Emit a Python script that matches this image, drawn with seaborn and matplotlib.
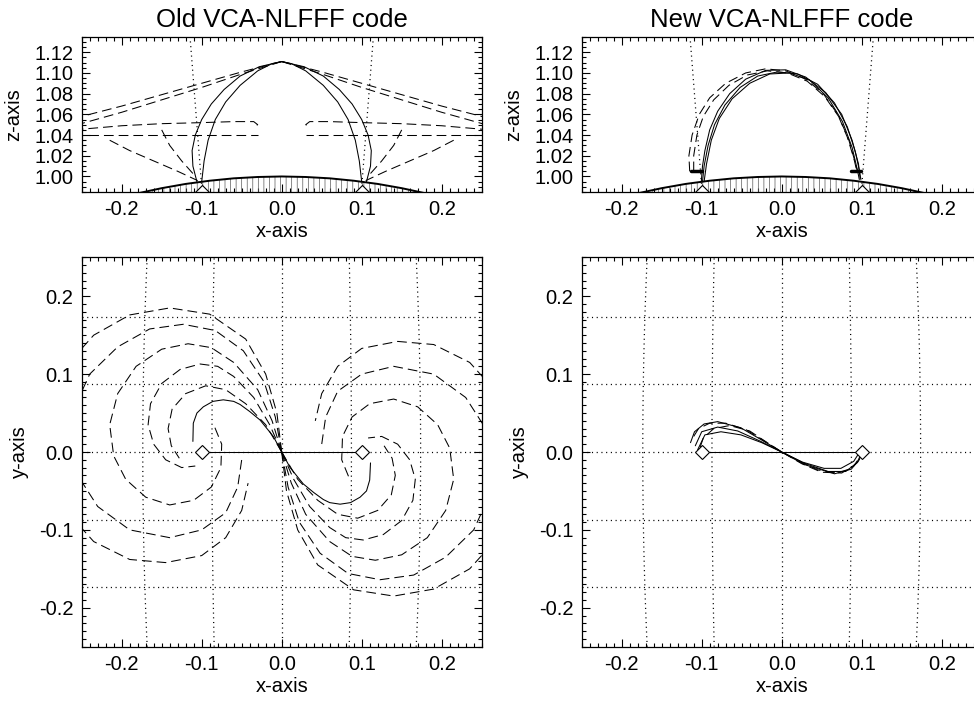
import matplotlib
matplotlib.use("Agg")
import matplotlib.pyplot as plt
import seaborn as sns
import numpy as np
from matplotlib.ticker import MultipleLocator, FormatStrFormatter

sns.set_theme(style="ticks")
plt.rcParams['font.family'] = ['Liberation Sans', 'DejaVu Sans']
plt.rcParams['axes.unicode_minus'] = False
plt.rcParams['lines.scale_dashes'] = False
plt.rcParams['hatch.linewidth'] = 0.5
for k in ('text.color', 'axes.labelcolor', 'xtick.color', 'ytick.color', 'axes.edgecolor'):
    plt.rcParams[k] = 'black'

# ---------------- data ----------------
titles = ["Old VCA-NLFFF code", "New VCA-NLFFF code"]
foot_x = [-0.1, 0.1]
foot_y = [0.0, 0.0]
axis_line_x = [-0.1, 0.1]
axis_line_y = [0.0, 0.0]

limb_x = [-0.18, -0.15, -0.12, -0.09, -0.06, -0.03, 0.0, 0.03, 0.06, 0.09, 0.12, 0.15, 0.18]
limb_z = [0.9837, 0.9887, 0.9928, 0.9959, 0.9982, 0.9995, 1.0, 0.9995, 0.9982, 0.9959, 0.9928, 0.9887, 0.9837]
fov_left_x = [-0.1146, -0.0995]
fov_right_x = [0.1146, 0.0995]
fov_z = [1.135, 0.985]

# old code, x-z projection
old_xz_solid_a_x = [-0.100, -0.097, -0.092, -0.083, -0.070, -0.052, -0.030, -0.012, 0.0, 0.012, 0.030, 0.052, 0.070, 0.083, 0.092, 0.097, 0.100]
old_xz_solid_a_z = [0.995, 1.015, 1.035, 1.055, 1.072, 1.088, 1.102, 1.109, 1.111, 1.109, 1.102, 1.088, 1.072, 1.055, 1.035, 1.015, 0.995]
old_xz_solid_b_x = [-0.106, -0.111, -0.112, -0.108, -0.100, -0.088, -0.072, -0.052, -0.028, 0.0, 0.028, 0.052, 0.072, 0.088, 0.100, 0.108, 0.112, 0.111, 0.106]
old_xz_solid_b_z = [0.995, 1.010, 1.025, 1.040, 1.055, 1.070, 1.084, 1.097, 1.106, 1.111, 1.106, 1.097, 1.084, 1.070, 1.055, 1.040, 1.025, 1.010, 0.995]
old_xz_dash = [
    ([0.0, -0.05, -0.10, -0.15, -0.20, -0.26], [1.111, 1.101, 1.090, 1.079, 1.068, 1.056]),
    ([0.0, -0.05, -0.10, -0.15, -0.20, -0.26], [1.111, 1.099, 1.086, 1.074, 1.062, 1.049]),
    ([-0.26, -0.20, -0.15, -0.10, -0.06, -0.035, -0.030, -0.035], [1.045, 1.049, 1.051, 1.052, 1.053, 1.053, 1.050, 1.048]),
    ([-0.26, -0.20, -0.15, -0.10, -0.05, -0.030], [1.040, 1.040, 1.040, 1.040, 1.040, 1.040]),
    ([-0.215, -0.19, -0.16, -0.13, -0.105], [1.035, 1.025, 1.015, 1.005, 0.996]),
    ([-0.15, -0.14, -0.125, -0.11], [1.045, 1.030, 1.015, 1.002]),
    ([0.0, 0.05, 0.10, 0.15, 0.20, 0.26], [1.111, 1.101, 1.090, 1.079, 1.068, 1.056]),
    ([0.0, 0.05, 0.10, 0.15, 0.20, 0.26], [1.111, 1.099, 1.086, 1.074, 1.062, 1.049]),
    ([0.26, 0.20, 0.15, 0.10, 0.06, 0.035, 0.030, 0.035], [1.045, 1.049, 1.051, 1.052, 1.053, 1.053, 1.050, 1.048]),
    ([0.26, 0.20, 0.15, 0.10, 0.05, 0.030], [1.040, 1.040, 1.040, 1.040, 1.040, 1.040]),
    ([0.215, 0.19, 0.16, 0.13, 0.105], [1.035, 1.025, 1.015, 1.005, 0.996]),
    ([0.15, 0.14, 0.125, 0.11], [1.045, 1.030, 1.015, 1.002]),
]

# old code, x-y projection
old_xy_solid_x = [-0.111, -0.1105, -0.106, -0.098, -0.086, -0.073, -0.060, -0.052, -0.040, -0.027, -0.0105, 0.0, 0.0105, 0.027, 0.040, 0.052, 0.060, 0.073, 0.086, 0.098, 0.106, 0.110, 0.111]
old_xy_solid_y = [0.0136, 0.037, 0.050, 0.058, 0.065, 0.067, 0.065, 0.061, 0.052, 0.041, 0.020, 0.0, -0.020, -0.041, -0.052, -0.061, -0.065, -0.067, -0.065, -0.058, -0.050, -0.036, -0.014]
old_xy_dash = [
    ([0.0, -0.006, -0.02, -0.045, -0.09, -0.14, -0.19, -0.235, -0.27, -0.29, -0.297, -0.29, -0.27, -0.235, -0.19, -0.145, -0.1, -0.07, -0.05, -0.042],
     [0.0, 0.05, 0.1, 0.145, 0.177, 0.185, 0.176, 0.15, 0.11, 0.06, 0.02, -0.03, -0.075, -0.115, -0.138, -0.142, -0.133, -0.11, -0.075, -0.04]),
    ([0.0, -0.008, -0.022, -0.048, -0.083, -0.123, -0.165, -0.205, -0.24, -0.26, -0.265, -0.255, -0.23, -0.19, -0.14, -0.1, -0.07, -0.055, -0.05],
     [0.0, 0.045, 0.09, 0.13, 0.156, 0.164, 0.158, 0.135, 0.1, 0.055, 0.02, -0.03, -0.07, -0.1, -0.11, -0.1, -0.078, -0.045, -0.01]),
    ([0.0, -0.012, -0.03, -0.06, -0.088, -0.117, -0.15, -0.182, -0.205, -0.215, -0.21, -0.195, -0.17, -0.14, -0.11, -0.088, -0.076, -0.075, -0.085],
     [0.0, 0.04, 0.08, 0.115, 0.134, 0.139, 0.132, 0.11, 0.075, 0.035, -0.005, -0.035, -0.058, -0.068, -0.062, -0.045, -0.02, 0.01, 0.035]),
    ([0.0, -0.015, -0.035, -0.06, -0.08, -0.102, -0.127, -0.15, -0.164, -0.167, -0.16, -0.145, -0.125, -0.108],
     [0.0, 0.035, 0.07, 0.097, 0.11, 0.113, 0.106, 0.088, 0.062, 0.035, 0.01, -0.01, -0.02, -0.018]),
    ([0.0, -0.02, -0.045, -0.07, -0.095, -0.12, -0.137, -0.142, -0.138, -0.128],
     [0.0, 0.035, 0.062, 0.08, 0.085, 0.075, 0.055, 0.03, 0.008, -0.008]),
    ([0.0, 0.006, 0.02, 0.045, 0.09, 0.14, 0.19, 0.235, 0.27, 0.29, 0.297, 0.29, 0.27, 0.235, 0.19, 0.145, 0.1, 0.07, 0.05, 0.042],
     [0.0, -0.05, -0.1, -0.145, -0.177, -0.185, -0.176, -0.15, -0.11, -0.06, -0.02, 0.03, 0.075, 0.115, 0.138, 0.142, 0.133, 0.11, 0.075, 0.04]),
    ([0.0, 0.008, 0.022, 0.048, 0.083, 0.123, 0.165, 0.205, 0.24, 0.26, 0.265, 0.255, 0.23, 0.19, 0.14, 0.1, 0.07, 0.055, 0.05],
     [0.0, -0.045, -0.09, -0.13, -0.156, -0.164, -0.158, -0.135, -0.1, -0.055, -0.02, 0.03, 0.07, 0.1, 0.11, 0.1, 0.078, 0.045, 0.01]),
    ([0.0, 0.012, 0.03, 0.06, 0.088, 0.117, 0.15, 0.182, 0.205, 0.215, 0.21, 0.195, 0.17, 0.14, 0.11, 0.088, 0.076, 0.075, 0.085],
     [0.0, -0.04, -0.08, -0.115, -0.134, -0.139, -0.132, -0.11, -0.075, -0.035, 0.005, 0.035, 0.058, 0.068, 0.062, 0.045, 0.02, -0.01, -0.035]),
    ([0.0, 0.015, 0.035, 0.06, 0.08, 0.102, 0.127, 0.15, 0.164, 0.167, 0.16, 0.145, 0.125, 0.108],
     [0.0, -0.035, -0.07, -0.097, -0.11, -0.113, -0.106, -0.088, -0.062, -0.035, -0.01, 0.01, 0.02, 0.018]),
    ([0.0, 0.02, 0.045, 0.07, 0.095, 0.12, 0.137, 0.142, 0.138, 0.128],
     [0.0, -0.035, -0.062, -0.08, -0.085, -0.075, -0.055, -0.03, -0.008, 0.008]),
]

# new code, x-z projection
new_xz_solid = [
    ([-0.1005, -0.099, -0.096, -0.090, -0.080, -0.065, -0.045, -0.020, 0.005, 0.030, 0.055, 0.075, 0.088, 0.096, 0.098],
     [0.995, 1.010, 1.025, 1.045, 1.063, 1.080, 1.094, 1.1025, 1.103, 1.096, 1.081, 1.060, 1.035, 1.012, 0.998]),
    ([-0.097, -0.094, -0.088, -0.078, -0.062, -0.040, -0.015, 0.010, 0.035, 0.058, 0.076, 0.088, 0.095, 0.097],
     [0.995, 1.012, 1.035, 1.056, 1.075, 1.090, 1.099, 1.100, 1.093, 1.076, 1.053, 1.028, 1.005, 0.997]),
    ([-0.099, -0.097, -0.092, -0.084, -0.071, -0.052, -0.030, -0.005, 0.020, 0.045, 0.066, 0.082, 0.092, 0.097, 0.099],
     [0.995, 1.010, 1.030, 1.050, 1.069, 1.086, 1.097, 1.101, 1.099, 1.089, 1.071, 1.048, 1.024, 1.006, 0.997]),
]
new_xz_dash = [
    ([-0.115, -0.116, -0.112, -0.103, -0.090, -0.070, -0.045, -0.020, 0.005, 0.030, 0.052, 0.070, 0.082, 0.090, 0.094],
     [1.005, 1.020, 1.040, 1.060, 1.076, 1.090, 1.100, 1.104, 1.102, 1.094, 1.080, 1.060, 1.038, 1.018, 1.005]),
    ([-0.110, -0.110, -0.106, -0.098, -0.085, -0.066, -0.043, -0.018, 0.007, 0.032, 0.054, 0.072, 0.084, 0.091, 0.095],
     [1.005, 1.020, 1.040, 1.058, 1.074, 1.088, 1.098, 1.102, 1.100, 1.092, 1.077, 1.057, 1.035, 1.016, 1.004]),
]
new_xz_stub_left = ([-0.114, -0.100], [1.0055, 1.0055])
new_xz_stub_right = ([0.086, 0.0995], [1.0050, 1.0050])

# new code, x-y projection
new_xy_solid = [
    ([-0.114, -0.109, -0.097, -0.080, -0.051, -0.026, 0.0, 0.028, 0.066, 0.087, 0.097, 0.100],
     [0.012, 0.026, 0.036, 0.039, 0.031, 0.016, 0.0, -0.016, -0.028, -0.022, -0.010, 0.0]),
    ([-0.105, -0.096, -0.076, -0.051, -0.025, 0.0, 0.026, 0.053, 0.074, 0.090, 0.095],
     [0.003, 0.022, 0.026, 0.022, 0.012, 0.0, -0.013, -0.021, -0.021, -0.012, -0.004]),
    ([-0.108, -0.100, -0.080, -0.055, -0.027, 0.0, 0.027, 0.058, 0.080, 0.094, 0.099],
     [0.008, 0.026, 0.032, 0.027, 0.014, 0.0, -0.014, -0.025, -0.025, -0.014, -0.003]),
]
new_xy_dash = [
    ([-0.110, -0.104, -0.090, -0.070, -0.045, -0.020, 0.0, 0.025, 0.050, 0.075, 0.090, 0.098],
     [0.020, 0.030, 0.037, 0.037, 0.029, 0.013, 0.0, -0.015, -0.026, -0.027, -0.018, -0.006]),
    ([-0.102, -0.098, -0.085, -0.065, -0.040, -0.018, 0.0, 0.022, 0.045, 0.068, 0.085, 0.096],
     [0.006, 0.018, 0.030, 0.034, 0.027, 0.012, 0.0, -0.012, -0.023, -0.027, -0.022, -0.012]),
]

grid_lon_deg = [-10, -5, 0, 5, 10]
grid_lat_deg = [-10, -5, 0, 5, 10]

# ---------------- drawing ----------------
DASH = (0, (7.0, 3.6))
DOT = (0, (0.8, 2.6))
LW = 0.75

W, H = 974, 704
fig = plt.figure(figsize=(W / 100, H / 100), dpi=100)


def box(l, t, r, b):
    return [l / W, 1 - b / H, (r - l) / W, (b - t) / H]


ax_tl = fig.add_axes(box(81.7, 36.7, 481.7, 192))
ax_tr = fig.add_axes(box(581.7, 36.7, 981.7, 192))
ax_bl = fig.add_axes(box(81.7, 257.3, 481.7, 646.7))
ax_br = fig.add_axes(box(581.7, 257.3, 981.7, 646.7))


def line(ax, x, y, ls='-', lw=LW, color='black'):
    sns.lineplot(x=list(x), y=list(y), sort=False, estimator=None, color=color,
                 linewidth=lw, linestyle=ls, ax=ax, legend=False)


def style(ax, top):
    ax.set_xlim(-0.25, 0.25)
    if top:
        ax.set_ylim(0.985, 1.135)
        ax.yaxis.set_major_locator(MultipleLocator(0.02))
        ax.yaxis.set_minor_locator(MultipleLocator(0.005))
        ax.yaxis.set_major_formatter(FormatStrFormatter('%.2f'))
        ax.set_ylabel('z-axis', fontsize=14.5, labelpad=8)
    else:
        ax.set_ylim(-0.25, 0.25)
        ax.yaxis.set_major_locator(MultipleLocator(0.1))
        ax.yaxis.set_minor_locator(MultipleLocator(0.01))
        ax.yaxis.set_major_formatter(FormatStrFormatter('%.1f'))
        ax.set_ylabel('y-axis', fontsize=14.5, labelpad=7)
    ax.xaxis.set_major_locator(MultipleLocator(0.1))
    ax.xaxis.set_minor_locator(MultipleLocator(0.01))
    ax.xaxis.set_major_formatter(FormatStrFormatter('%.1f'))
    ax.set_xlabel('x-axis', fontsize=14.5, labelpad=2)
    ax.tick_params(which='both', direction='in', top=True, right=True,
                   width=0.8, colors='black', labelsize=14.5, pad=6)
    ax.tick_params(which='major', length=6)
    ax.tick_params(which='minor', length=3)
    for s in ax.spines.values():
        s.set_linewidth(0.9)
        s.set_color('black')
    ax.set_facecolor('white')


def draw_top_common(ax):
    ax.fill_between(limb_x, limb_z, 0.97, facecolor='none', edgecolor='0.35',
                    hatch='|||', linewidth=0)
    line(ax, limb_x, limb_z, lw=1.4)
    line(ax, fov_left_x, fov_z, ls=DOT, lw=0.9)
    line(ax, fov_right_x, fov_z, ls=DOT, lw=0.9)
    ax.plot(foot_x, [0.9852, 0.9852], linestyle='none', marker='D', ms=7,
            mfc='white', mec='black', mew=0.8)


def draw_bottom_common(ax):
    lat = np.deg2rad(grid_lat_deg)
    lon = np.deg2rad(grid_lon_deg)
    for la in lat:
        line(ax, [-0.25, 0.25], [np.sin(la), np.sin(la)], ls=DOT, lw=0.9)
    yy = np.linspace(-0.25, 0.25, 41)
    for lo in lon:
        line(ax, np.sin(lo) * np.sqrt(1 - yy ** 2), yy, ls=DOT, lw=0.9)
    line(ax, axis_line_x, axis_line_y, lw=LW)


# top-left
draw_top_common(ax_tl)
line(ax_tl, old_xz_solid_a_x, old_xz_solid_a_z)
line(ax_tl, old_xz_solid_b_x, old_xz_solid_b_z)
for xs, zs in old_xz_dash:
    line(ax_tl, xs, zs, ls=DASH)

# top-right
draw_top_common(ax_tr)
for xs, zs in new_xz_solid:
    line(ax_tr, xs, zs)
for xs, zs in new_xz_dash:
    line(ax_tr, xs, zs, ls=DASH)
line(ax_tr, *new_xz_stub_left, lw=2.5)
line(ax_tr, *new_xz_stub_right, lw=2.5)

# bottom-left
draw_bottom_common(ax_bl)
line(ax_bl, old_xy_solid_x, old_xy_solid_y)
for xs, ys in old_xy_dash:
    line(ax_bl, xs, ys, ls=DASH)
ax_bl.plot(foot_x, foot_y, linestyle='none', marker='D', ms=7,
           mfc='white', mec='black', mew=0.8, zorder=5)

# bottom-right
draw_bottom_common(ax_br)
for xs, ys in new_xy_solid:
    line(ax_br, xs, ys)
for xs, ys in new_xy_dash:
    line(ax_br, xs, ys, ls=DASH)
ax_br.plot(foot_x, foot_y, linestyle='none', marker='D', ms=7,
           mfc='white', mec='black', mew=0.8, zorder=5)

for ax in (ax_tl, ax_tr):
    style(ax, True)
for ax in (ax_bl, ax_br):
    style(ax, False)

ax_tl.set_title(titles[0], fontsize=18.5, pad=7)
ax_tr.set_title(titles[1], fontsize=18.5, pad=7)

fig.savefig('out.png', dpi=100, facecolor='white')
